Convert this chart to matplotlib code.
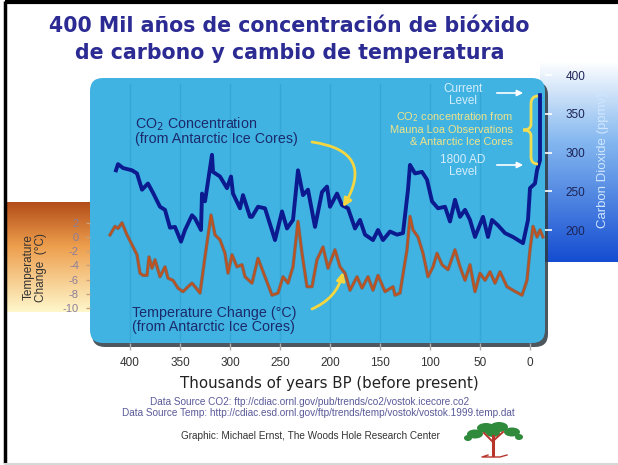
import numpy as np
import matplotlib
matplotlib.use("Agg")
import matplotlib.pyplot as plt
from matplotlib.patches import FancyBboxPatch, Ellipse, PathPatch
from matplotlib.path import Path

# ---------------- data ----------------
co2_age = [414, 412, 407, 398, 393, 388, 382, 377, 370, 365, 360, 355, 349, 345, 338, 335,
           329, 328, 325, 318, 317, 310, 303, 299, 297, 290, 287, 280, 278, 272, 265, 255,
           248, 243, 237, 232, 227, 222, 215, 208, 203, 200, 193, 188, 182, 175, 170, 165,
           157, 152, 147, 140, 133, 127, 122, 120, 115, 108, 103, 98, 92, 85, 80, 75, 70,
           65, 60, 55, 47, 42, 38, 32, 25, 17, 7, 2, 0, -5, -7, -10, -10]
co2_ppm = [277, 285, 280, 277, 273, 252, 260, 248, 230, 226, 203, 204, 185, 200, 219, 215,
           200, 247, 237, 297, 275, 269, 254, 269, 247, 228, 245, 217, 217, 230, 228, 187,
           224, 202, 213, 277, 245, 252, 204, 249, 256, 230, 247, 232, 228, 202, 213, 194,
           187, 200, 187, 198, 194, 196, 252, 284, 273, 275, 265, 237, 228, 230, 211, 239, 217,
           226, 213, 191, 217, 191, 213, 206, 196, 191, 183, 213, 254, 260, 277, 290, 374]

temp_age = [420, 415, 412, 408, 403, 398, 393, 390, 387, 383, 381, 378, 375, 370, 365, 362,
            357, 352, 347, 342, 338, 335, 330, 325, 319, 315, 310, 305, 302, 298, 293, 288,
            285, 278, 272, 265, 258, 252, 247, 242, 237, 232, 228, 223, 218, 213, 207, 202,
            195, 190, 185, 180, 173, 168, 162, 157, 152, 145, 137, 135, 130, 128, 123, 120,
            117, 112, 107, 102, 97, 93, 88, 82, 75, 70, 65, 60, 55, 50, 45, 40, 35, 30, 23,
            17, 8, 3, 0, -3, -7, -10, -13]
temp_val = [0.3, 1.5, 1.2, 2.0, 0.3, -1.1, -2.5, -5.1, -5.4, -5.4, -2.8, -4.4, -3.2, -5.6,
            -4.2, -5.8, -6.1, -7.2, -7.7, -7.0, -6.5, -7.0, -7.9, -2.8, 3.1, 0.3, -0.4, -2.3,
            -5.1, -2.5, -4.2, -3.9, -5.6, -6.5, -3.0, -5.6, -8.2, -7.9, -5.6, -6.5, -4.2, 2.2,
            -2.3, -7.0, -7.0, -3.2, -1.4, -4.4, -1.8, -4.2, -5.1, -7.5, -5.6, -7.2, -5.6, -7.5,
            -5.4, -7.7, -7.0, -8.2, -7.9, -6.1, -1.8, 2.9, 1.0, 0.0, -2.3, -5.6, -4.2, -2.3,
            -3.9, -4.6, -1.8, -4.2, -6.1, -3.9, -7.7, -5.1, -6.1, -4.9, -6.5, -4.9, -7.0, -7.5,
            -8.2, -6.1, -1.8, 1.5, 0.0, 1.0, 0.0]

x_ticks = [400, 350, 300, 250, 200, 150, 100, 50, 0]
co2_ticks = [200, 250, 300, 350, 400]
temp_ticks = [2, 0, -2, -4, -6, -8, -10]

title1 = "400 Mil años de concentración de bióxido"
title2 = "de carbono y cambio de temperatura"
xlabel = "Thousands of years BP (before present)"
src1 = "Data Source CO2: ftp://cdiac.ornl.gov/pub/trends/co2/vostok.icecore.co2"
src2 = "Data Source Temp: http://cdiac.esd.ornl.gov/ftp/trends/temp/vostok/vostok.1999.temp.dat"
credit = "Graphic: Michael Ernst, The Woods Hole Research Center"

# ---------------- figure ----------------
W, H = 618, 465
fig = plt.figure(figsize=(W / 100, H / 100), dpi=100)
fig.patch.set_facecolor("white")

def px_axes(z):
    a = fig.add_axes([0, 0, 1, 1], zorder=z)
    a.set_xlim(0, W)
    a.set_ylim(H, 0)
    a.axis("off")
    a.patch.set_alpha(0)
    return a

bg = px_axes(0)

# frame
bg.plot([5, 5], [1, 463], color="black", lw=2.5, solid_capstyle="butt")
bg.plot([5, W], [2.5, 2.5], color="black", lw=3, solid_capstyle="butt")
bg.plot([5, W], [463.5, 463.5], color="#d8d8d8", lw=1.5)

# right gradient box (white -> blue)
n = 200
t = np.linspace(0, 1, n)[:, None]
top_c = np.array([1.0, 1.0, 1.0])
mid_c = np.array([0.52, 0.72, 0.94])
bot_c = np.array([0.08, 0.30, 0.82])
grad = np.where(t < 0.4, top_c + (mid_c - top_c) * (t / 0.4),
                mid_c + (bot_c - mid_c) * ((t - 0.4) / 0.6))
grad = np.repeat(grad[:, None, :], 2, axis=1)
bg.imshow(grad, extent=[540, W, 262, 62], origin="upper", aspect="auto", zorder=1)

# left gradient box (rust -> pale yellow)
t2 = np.linspace(0, 1, n)[:, None]
c0 = np.array([0.70, 0.30, 0.10])
c1 = np.array([0.93, 0.62, 0.30])
c2 = np.array([1.00, 0.97, 0.80])
g2 = np.where(t2 < 0.4, c0 + (c1 - c0) * (t2 / 0.4), c1 + (c2 - c1) * ((t2 - 0.4) / 0.6))
g2 = np.repeat(g2[:, None, :], 2, axis=1)
bg.imshow(g2, extent=[6, 94, 312, 202], origin="upper", aspect="auto", zorder=1)

# panel shadow and panel
bg.add_patch(FancyBboxPatch((92, 82), 456, 265, boxstyle="round,pad=0,rounding_size=13",
                            facecolor="#2f3a40", edgecolor="none", alpha=0.85, zorder=2))
bg.add_patch(FancyBboxPatch((90, 78), 455, 265, boxstyle="round,pad=0,rounding_size=13",
                            facecolor="#40b3e3", edgecolor="none", zorder=3))

# ---------------- data axes ----------------
L, R, T, B = 90, 545, 70, 343
ax = fig.add_axes([L / W, 1 - B / H, (R - L) / W, (B - T) / H], zorder=5)
ax.patch.set_alpha(0)
ax.set_xlim(530 - L, 530 - R)
for s in ax.spines.values():
    s.set_visible(False)
ax.set_ylim(-(B - 237) / 7.1, -(T - 237) / 7.1)  # temperature scale (left)
ax2 = ax.twinx()
ax2.patch.set_alpha(0)
for s in ax2.spines.values():
    s.set_visible(False)
ax2.set_ylim(400 - (B - 75) / 0.775, 400 - (T - 75) / 0.775)  # CO2 scale (right)

# vertical guide lines inside the panel
for xt in x_ticks[:-1]:
    ax.plot([xt, xt], [-14.5, 21.5], color="#36a6d6", lw=1.0, zorder=1)

ax.plot(temp_age, temp_val, color="#7a6a62", lw=2.4, zorder=3, solid_joinstyle="round")
ax.plot(temp_age, temp_val, color="#c4501a", lw=1.2, zorder=4, solid_joinstyle="round")
ax2.plot(co2_age, co2_ppm, color="#0c1a90", lw=2.8, zorder=5, solid_joinstyle="round")

ax.set_xticks(x_ticks)
ax.set_xticklabels([str(v) for v in x_ticks])
ax.tick_params(axis="x", direction="out", length=5, width=1, color="#b0b0b0",
               labelsize=8.5, labelcolor="#333333", pad=5)
for lab in ax.get_xticklabels():
    lab.set_fontfamily("Liberation Sans")

ax.set_yticks(temp_ticks)
ax.set_yticklabels([str(v) for v in temp_ticks])
ax.tick_params(axis="y", direction="out", length=3, width=1, color="#c8a080",
               labelsize=8, labelcolor="#8c7e9c", pad=5)
for lab in ax.get_yticklabels():
    lab.set_fontfamily("Liberation Sans")

ax2.set_yticks(co2_ticks)
ax2.set_yticklabels([str(v) for v in co2_ticks])
ax2.tick_params(axis="y", direction="out", length=5, width=1.2, color="white",
                labelsize=8.5, labelcolor="#1c2458", pad=10)
for lab in ax2.get_yticklabels():
    lab.set_fontfamily("Liberation Sans")

# ---------------- overlay texts ----------------
ov = px_axes(10)
navy = "#1b2a6b"
ov.text(289, 26, title1, ha="center", va="center",
        fontsize=14.8, fontweight="bold", color="#2b2b93", family="DejaVu Sans")
ov.text(290, 53, title2, ha="center", va="center",
        fontsize=14.8, fontweight="bold", color="#2b2b93", family="DejaVu Sans")

ov.text(135, 124, "CO$_2$ Concentration", ha="left", va="center",
        fontsize=10.3, color=navy, family="Liberation Sans")
ov.text(135, 139, "(from Antarctic Ice Cores)", ha="left", va="center",
        fontsize=10.3, color=navy, family="Liberation Sans")
ov.text(132, 313, "Temperature Change (°C)", ha="left", va="center",
        fontsize=10.3, color=navy, family="Liberation Sans")
ov.text(132, 327, "(from Antarctic Ice Cores)", ha="left", va="center",
        fontsize=10.3, color=navy, family="Liberation Sans")

pale = "#d4eefb"
for txt, yy in (("Current", 88.5), ("Level", 101), ("1800 AD", 159.5), ("Level", 172)):
    ov.text(463, yy, txt, ha="center", va="center", fontsize=8.5, color=pale,
            family="Liberation Sans")
for txt, yy in (("CO$_2$ concentration from", 117.5), ("Mauna Loa Observations", 129.5),
                ("& Antarctic Ice Cores", 141.5)):
    ov.text(513, yy, txt, ha="right", va="center", fontsize=7.9, color="#eee38a",
            family="Liberation Sans")

for yy in (93, 165):
    ov.annotate("", xy=(526, yy), xytext=(494, yy),
                arrowprops=dict(arrowstyle="-|>", color="white", lw=1.2, mutation_scale=9))

# brace
verts = [(538, 96), (531, 96), (531, 104),
         (531, 124),
         (531, 130), (523, 130),
         (531, 130), (531, 136),
         (531, 157),
         (531, 164), (538, 164)]
codes = [Path.MOVETO, Path.CURVE3, Path.CURVE3,
         Path.LINETO,
         Path.CURVE3, Path.CURVE3,
         Path.CURVE3, Path.CURVE3,
         Path.LINETO,
         Path.CURVE3, Path.CURVE3]
ov.add_patch(PathPatch(Path(verts, codes), facecolor="none", edgecolor="#f2dc50", lw=2.0))

# yellow curved arrows
ov.annotate("", xy=(343, 207), xytext=(312, 142),
            arrowprops=dict(arrowstyle="-|>", color="#f4d640", lw=2.0, mutation_scale=12,
                            connectionstyle="arc3,rad=-0.75", shrinkA=0, shrinkB=0))
ov.annotate("", xy=(343, 272), xytext=(312, 309),
            arrowprops=dict(arrowstyle="-|>", color="#f4d640", lw=2.0, mutation_scale=12,
                            connectionstyle="arc3,rad=0.25", shrinkA=0, shrinkB=0))

# axis-side labels
ov.text(35, 267, "Temperature\nChange  (°C)", rotation=90, ha="center", va="center",
        fontsize=8.5, color="#333333", family="Liberation Sans", linespacing=1.0)
ov.text(603, 160, "Carbon Dioxide (ppmv)", rotation=90, ha="center", va="center",
        fontsize=9.5, color="#cfe6ff", family="Liberation Sans")

ov.text(329, 383, xlabel, ha="center", va="center", fontsize=10.8, color="#222222",
        family="DejaVu Sans")
ov.text(310, 402, src1, ha="center", va="center", fontsize=7.2, color="#5a5a9a",
        family="Liberation Sans")
ov.text(318, 413, src2, ha="center", va="center", fontsize=7.2, color="#5a5a9a",
        family="Liberation Sans")
ov.text(310, 436, credit, ha="center", va="center", fontsize=7.2, color="#333333",
        family="Liberation Sans")

# tree logo
trunk = "#b8352b"
ov.plot([493, 493], [436, 455], color=trunk, lw=2.2)
ov.plot([493, 484], [442, 433], color=trunk, lw=1.4)
ov.plot([493, 503], [441, 432], color=trunk, lw=1.4)
ov.plot([488, 482, 500, 507], [455, 457, 457, 455], color=trunk, lw=1.0)
green = "#2f8a3c"
for (cx, cy, w, h) in [(475, 434, 16, 9), (486, 428, 18, 10), (499, 427, 18, 10),
                       (512, 432, 16, 9), (519, 437, 8, 6), (468, 438, 8, 6), (493, 433, 14, 8)]:
    ov.add_patch(Ellipse((cx, cy), w, h, facecolor=green, edgecolor="none"))

fig.savefig("out.png", dpi=100)
